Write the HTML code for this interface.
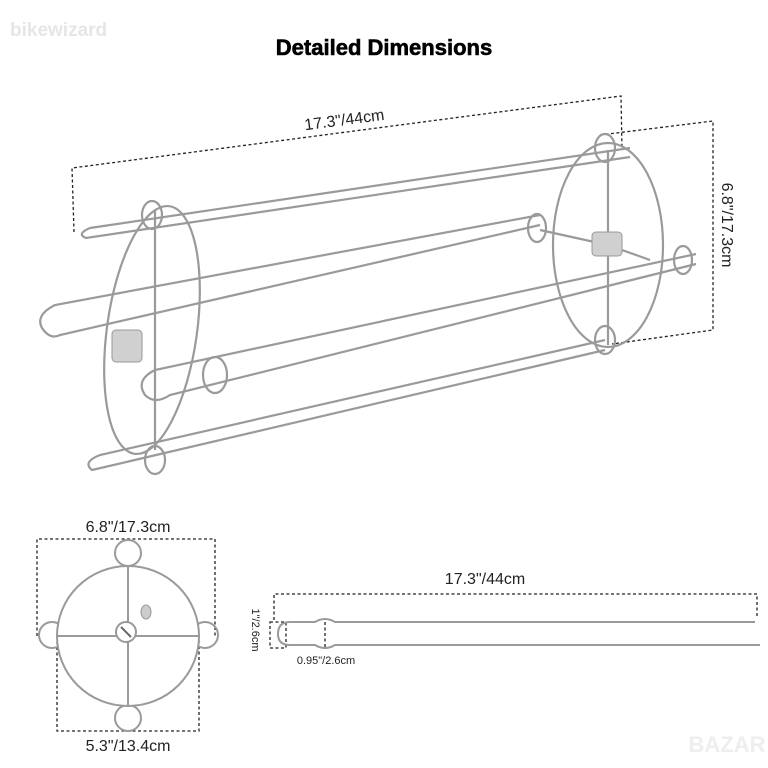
<!DOCTYPE html>
<html><head><meta charset="utf-8"><style>
body{margin:0;background:#fff;}
svg{display:block;font-family:"Liberation Sans",sans-serif;}
</style></head><body>
<svg width="768" height="768" viewBox="0 0 768 768">
<text x="10" y="36" font-size="19" fill="#e6e6e6" font-weight="bold">bikewizard</text>
<text x="384" y="55" font-size="22" font-weight="bold" text-anchor="middle" fill="#000" stroke="#000" stroke-width="0.6">Detailed Dimensions</text>
<g fill="none" stroke="#222" stroke-width="1.3" stroke-dasharray="3,2.5">
<polyline points="74,232 72,168 621,96 622,150"/>
<polyline points="600,135 713,121 713,330 612,344"/>
<polyline points="37,636 37,539 215,539 215,636"/>
<polyline points="57,636 57,731 199,731 199,636"/>
<polyline points="274,620 274,594 757,594 757,618"/>
<rect x="270" y="622" width="16" height="26"/>
<line x1="325" y1="622" x2="325" y2="648"/>
</g>
<text transform="translate(345,125) rotate(-7.5)" font-size="16" text-anchor="middle" fill="#222">17.3"/44cm</text>
<text transform="translate(722,225) rotate(90)" font-size="16" text-anchor="middle" fill="#222">6.8"/17.3cm</text>
<text x="128" y="532" font-size="16" text-anchor="middle" fill="#222">6.8"/17.3cm</text>
<text x="128" y="751" font-size="16" text-anchor="middle" fill="#222">5.3"/13.4cm</text>
<text x="485" y="584" font-size="16" text-anchor="middle" fill="#222">17.3"/44cm</text>
<text transform="translate(252,630) rotate(90)" font-size="11" text-anchor="middle" fill="#222">1"/2.6cm</text>
<text x="326" y="664" font-size="11" text-anchor="middle" fill="#222">0.95"/2.6cm</text>
<g fill="none" stroke="#9a9a9a" stroke-width="2.2">
<ellipse cx="152" cy="330" rx="45" ry="125" transform="rotate(8 152 330)"/>
<ellipse cx="608" cy="245" rx="55" ry="102"/>
<line x1="155" y1="210" x2="155" y2="450"/>
<line x1="608" y1="150" x2="608" y2="345"/>
<ellipse cx="152" cy="215" rx="10" ry="14"/>
<ellipse cx="155" cy="460" rx="10" ry="14"/>
<ellipse cx="605" cy="148" rx="10" ry="14"/>
<ellipse cx="605" cy="340" rx="10" ry="14"/>
<ellipse cx="537" cy="228" rx="9" ry="14"/>
<ellipse cx="683" cy="260" rx="9" ry="14"/>
<ellipse cx="215" cy="375" rx="12" ry="18"/>
<path d="M630,148 L90,228 Q76,234 86,238 L630,157"/>
<path d="M540,215 L55,305 Q35,315 42,328 Q50,340 60,335 L540,225"/>
<path d="M696,254 L155,370 Q135,380 145,395 Q155,405 170,395 L696,264"/>
<path d="M605,340 L100,455 Q82,462 92,470 L605,350"/>
<line x1="540" y1="230" x2="608" y2="245"/>
<line x1="608" y1="245" x2="650" y2="260"/>
</g>
<rect x="112" y="330" width="30" height="32" rx="4" fill="#d0d0d0" stroke="#999"/>
<rect x="592" y="232" width="30" height="24" rx="4" fill="#d0d0d0" stroke="#999"/>
<g fill="none" stroke="#9a9a9a" stroke-width="2">
<circle cx="128" cy="553" r="13"/>
<circle cx="128" cy="718" r="13"/>
<circle cx="52" cy="635" r="13"/>
<circle cx="205" cy="635" r="13"/>
<ellipse cx="128" cy="636" rx="71" ry="70" fill="#fff"/>
<line x1="128" y1="566" x2="128" y2="706"/>
<line x1="58" y1="636" x2="198" y2="636"/>
</g>
<circle cx="126" cy="632" r="10" fill="#fff" stroke="#999" stroke-width="2"/>
<line x1="121" y1="627" x2="131" y2="637" stroke="#666" stroke-width="2"/>
<ellipse cx="146" cy="612" rx="5" ry="7" fill="#ccc" stroke="#999"/>
<path d="M755,622 L335,622 Q325,616 315,622 L290,622 Q278,622 278,634 Q278,645 290,645 L315,645 Q325,651 335,645 L760,645" fill="none" stroke="#9a9a9a" stroke-width="2"/>
<text x="727" y="752" font-size="22" font-weight="bold" fill="#eee" text-anchor="middle">BAZAR</text>
</svg>
</body></html>
